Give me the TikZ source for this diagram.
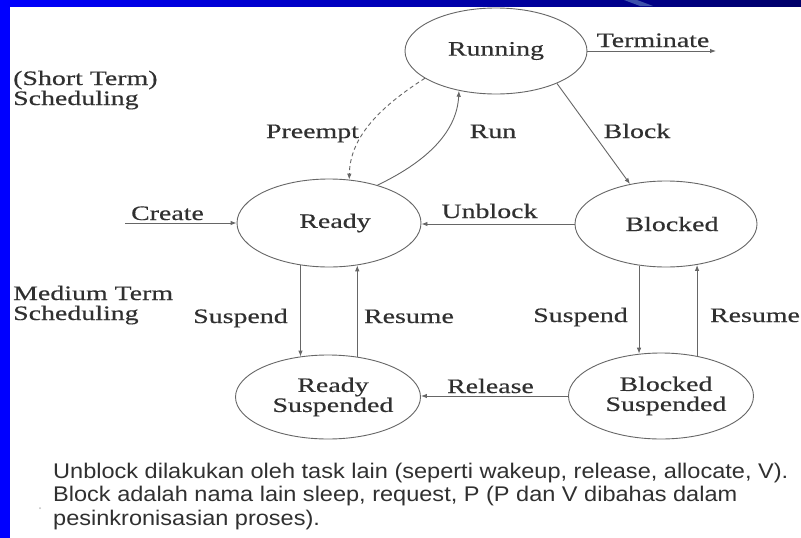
\documentclass[tikz,border=0pt]{standalone}
\usepackage{fontspec}
\setmainfont[FakeStretch=1.36,FakeBold=0.4]{Liberation Serif}
\newfontfamily\notefont[FakeStretch=1.11]{Liberation Sans}
\usetikzlibrary{shapes.geometric,arrows.meta}
\definecolor{ink}{HTML}{303030}
\definecolor{edge}{HTML}{666666}
\definecolor{barblue}{RGB}{0,0,255}
\definecolor{barnavy}{RGB}{0,0,105}
\definecolor{stripe}{RGB}{60,80,170}
\newcommand\labfont{\fontsize{20.5}{20}\selectfont}
\newcommand\notesize{\notefont\fontsize{21.2}{23.5}\selectfont}
\begin{document}
\begin{tikzpicture}[x=1pt,y=-1pt,
  state/.style={ellipse, draw=edge, line width=0.9pt, inner sep=0pt, text=ink, font=\labfont, align=center},
  lbl/.style={anchor=base, text=ink, font=\labfont, inner sep=0pt},
  lblw/.style={anchor=base west, text=ink, font=\labfont, inner sep=0pt},
  note/.style={anchor=base west, text=ink, font=\notesize, inner sep=0pt},
  conn/.style={draw=edge, line width=0.9pt, -{Latex[length=6pt,width=4.5pt]}},
  dashconn/.style={conn, dash pattern=on 4pt off 3pt}]
\useasboundingbox (0,0) rectangle (801,538);
\fill[white] (0,0) rectangle (801,538);
% slide frame
\fill[barblue] (0,0) rectangle (10,538);
\shade[left color=barblue, right color=barnavy] (0,0) rectangle (801,6);
\fill[stripe] (624,0) -- (637,0) -- (653,6) -- (640,6) -- cycle;

% states
\node[state, minimum width=182pt, minimum height=86pt] (run) at (496,51) {Running};
\node[state, minimum width=184pt, minimum height=88pt] (ready) at (329,223) {\hspace*{12pt}Ready};
\node[state, minimum width=182pt, minimum height=86pt] (blk) at (666,224) {\hspace*{12pt}Blocked};
\node[state, minimum width=184pt, minimum height=84pt] (rsus) at (328,397) {\hspace*{10pt}Ready\\\hspace*{10pt}Suspended};
\node[state, minimum width=184pt, minimum height=86pt] (bsus) at (661,396) {\hspace*{10pt}Blocked\\\hspace*{10pt}Suspended};

\coordinate (createS) at (125,223);
\coordinate (termE) at (716,51);

% connectors
\draw[conn] (createS) -- (ready.west);
\draw[conn] (run.east) -- (termE);
\draw[conn] (blk.west) -- (blk.west -| ready.east);
\draw[conn] (bsus.west) -- (bsus.west -| rsus.east);
\draw[conn] (run.-28.6) -- (blk.132);
\draw[conn] (ready.38.4) .. controls (430,160) and (457,130) .. (run.-133.6);
\draw[dashconn] (run.-159) .. controls (375,110) and (350,140) .. (ready.65);
\draw[conn] (ready.-124.8) -- (ready.-124.8 |- rsus.125);
\draw[conn] (rsus.54) -- (rsus.54 |- ready.-56.2);
\draw[conn] (blk.-123.3) -- (blk.-123.3 |- bsus.117.8);
\draw[conn] (bsus.48.7) -- (bsus.48.7 |- blk.-53.5);

% labels
\node[lbl] (lterm) at (653,47) {Terminate};
\node[lbl] (lcreate) at (167.5,220) {Create};
\node[lbl] (lunblock) at (489.5,218) {Unblock};
\node[lbl] (lrelease) at (490.5,393) {Release};
\node[lbl] (lpreempt) at (312.5,138) {Preempt};
\node[lbl] (lrun) at (493,138) {Run};
\node[lbl] (lblock) at (637,138) {Block};
\node[lbl] (lsusl) at (240.5,323) {Suspend};
\node[lbl] (lresl) at (409,323) {Resume};
\node[lbl] (lsusr) at (580.5,322) {Suspend};
\node[lbl] (lresr) at (755,322) {Resume};

\node[lblw] (st1) at (13,85) {(Short Term)};
\node[lblw] (st2) at (13,105) {Scheduling};
\node[lblw] (mt1) at (13,300) {Medium Term};
\node[lblw] (mt2) at (13,320) {Scheduling};

% note
\node[note] (n1) at (53,478) {Unblock dilakukan oleh task lain (seperti wakeup, release, allocate, V).};
\node[note] (n2) at (53,501.5) {Block adalah nama lain sleep, request, P (P dan V dibahas dalam};
\node[note] (n3) at (53,525) {pesinkronisasian proses).};
\fill[black!25] (40,508) circle (1pt);
\end{tikzpicture}
\end{document}
